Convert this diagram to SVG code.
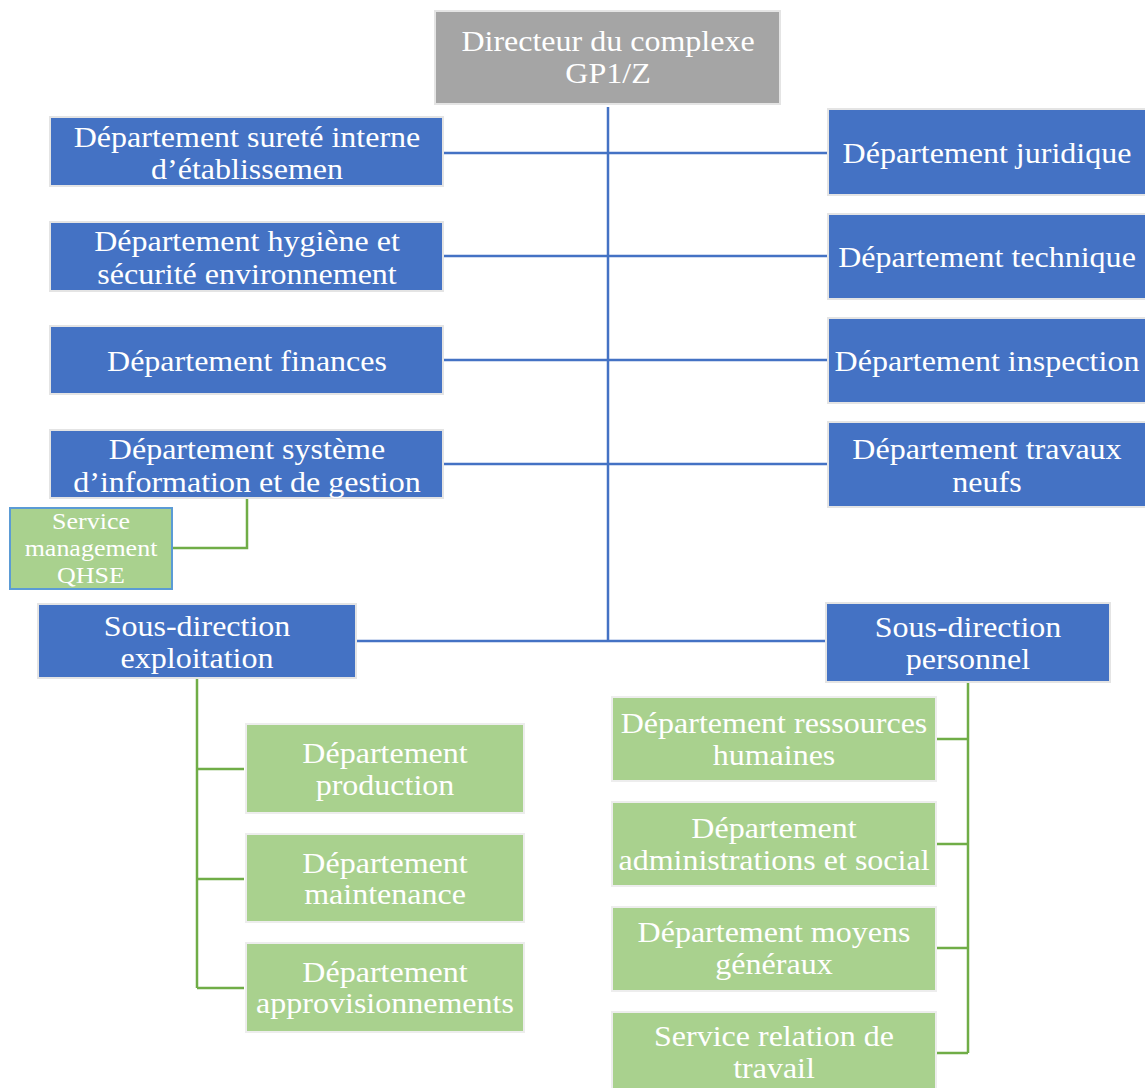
<svg xmlns="http://www.w3.org/2000/svg" width="1145" height="1088" viewBox="0 0 1145 1088">
<style>
.b{fill:#4472C4;stroke:#E4E4E4;stroke-width:2}
.g{fill:#A9D18E;stroke:#EDEDED;stroke-width:2}
.gr{fill:#A5A5A5;stroke:#E4E4E4;stroke-width:2}
.q{fill:#A9D18E;stroke:#5B9BD5;stroke-width:2}
text{font-family:'Liberation Serif','Times New Roman',serif;font-size:30px;fill:#fff;text-anchor:middle}
.s{font-size:24px}
.cb{fill:none;stroke:#4472C4;stroke-width:2.5}
.cg{fill:none;stroke:#70AD47;stroke-width:2.5}
</style>
<rect width="1145" height="1088" fill="#fff"/>
<g id="connectors">
<path class="cb" d="M608 107V641M443 153H828M443 256H828M443 360H828M443 464H828M356 641H828"/>
<path class="cg" d="M247 498V548H172"/>
<path class="cg" d="M197 678V988M197 769H244M197 879H244M197 988H244"/>
<path class="cg" d="M968 682V1053M936 739H968M936 844H968M936 948H968M936 1053H968"/>
</g>
<g id="director"><rect class="gr" x="435" y="11" width="345" height="93"/><text transform="translate(608 51) scale(1.067 1)">Directeur du complexe</text><text transform="translate(608 83) scale(1.067 1)">GP1/Z</text></g>
<g id="surete"><rect class="b" x="50" y="117" width="393" height="69"/><text transform="translate(247 147) scale(1.067 1)">Département sureté interne</text><text transform="translate(247 179) scale(1.067 1)">d’établissemen</text></g>
<g id="hygiene"><rect class="b" x="50" y="222" width="393" height="69"/><text transform="translate(247 251) scale(1.067 1)">Département hygiène et</text><text transform="translate(247 284) scale(1.067 1)">sécurité environnement</text></g>
<g id="finances"><rect class="b" x="50" y="326" width="393" height="68"/><text transform="translate(247 371) scale(1.067 1)">Département finances</text></g>
<g id="sig"><rect class="b" x="50" y="430" width="393" height="68"/><text transform="translate(247 459) scale(1.067 1)">Département système</text><text transform="translate(247 492) scale(1.067 1)">d’information et de gestion</text></g>
<g id="juridique"><rect class="b" x="828" y="109" width="320" height="86"/><text transform="translate(987 163) scale(1.067 1)">Département juridique</text></g>
<g id="technique"><rect class="b" x="828" y="214" width="320" height="85"/><text transform="translate(987 267) scale(1.067 1)">Département technique</text></g>
<g id="inspection"><rect class="b" x="828" y="318" width="320" height="85"/><text transform="translate(987 371) scale(1.067 1)">Département inspection</text></g>
<g id="travaux"><rect class="b" x="828" y="422" width="320" height="85"/><text transform="translate(987 459) scale(1.067 1)">Département travaux</text><text transform="translate(987 492) scale(1.067 1)">neufs</text></g>
<g id="qhse"><rect class="q" x="10" y="508" width="162" height="81"/><text class="s" transform="translate(91 529) scale(1.083 1)">Service</text><text class="s" transform="translate(91 556) scale(1.083 1)">management</text><text class="s" transform="translate(91 583) scale(1.083 1)">QHSE</text></g>
<g id="sd-exploitation"><rect class="b" x="38" y="604" width="318" height="74"/><text transform="translate(197 636) scale(1.067 1)">Sous-direction</text><text transform="translate(197 668) scale(1.067 1)">exploitation</text></g>
<g id="sd-personnel"><rect class="b" x="826" y="603" width="284" height="79"/><text transform="translate(968 637) scale(1.067 1)">Sous-direction</text><text transform="translate(968 669) scale(1.067 1)">personnel</text></g>
<g id="production"><rect class="g" x="246" y="724" width="278" height="89"/><text transform="translate(385 763) scale(1.067 1)">Département</text><text transform="translate(385 795) scale(1.067 1)">production</text></g>
<g id="maintenance"><rect class="g" x="246" y="834" width="278" height="88"/><text transform="translate(385 873) scale(1.067 1)">Département</text><text transform="translate(385 904) scale(1.067 1)">maintenance</text></g>
<g id="approvisionnements"><rect class="g" x="246" y="943" width="278" height="89"/><text transform="translate(385 982) scale(1.067 1)">Département</text><text transform="translate(385 1013) scale(1.067 1)">approvisionnements</text></g>
<g id="rh"><rect class="g" x="612" y="697" width="324" height="84"/><text transform="translate(774 733) scale(1.067 1)">Département ressources</text><text transform="translate(774 765) scale(1.067 1)">humaines</text></g>
<g id="admin"><rect class="g" x="612" y="802" width="324" height="84"/><text transform="translate(774 838) scale(1.067 1)">Département</text><text transform="translate(774 870) scale(1.067 1)">administrations et social</text></g>
<g id="moyens"><rect class="g" x="612" y="907" width="324" height="84"/><text transform="translate(774 942) scale(1.067 1)">Département moyens</text><text transform="translate(774 974) scale(1.067 1)">généraux</text></g>
<g id="relation"><rect class="g" x="612" y="1012" width="324" height="84"/><text transform="translate(774 1046) scale(1.067 1)">Service relation de</text><text transform="translate(774 1078) scale(1.067 1)">travail</text></g>
</svg>
